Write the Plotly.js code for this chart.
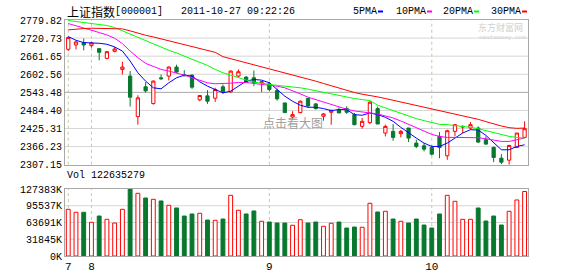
<!DOCTYPE html>
<html><head><meta charset="utf-8">
<script src="https://cdn.plot.ly/plotly-3.0.1.min.js"></script>
<style>html,body{margin:0;padding:0;background:#fff}#chart{width:578px;height:276px}</style>
</head><body><div id="chart"></div>
<script>
const dates = [
'2011-07-27','2011-07-28','2011-07-29',
'2011-08-01','2011-08-02','2011-08-03','2011-08-04','2011-08-05',
'2011-08-08','2011-08-09','2011-08-10','2011-08-11','2011-08-12',
'2011-08-15','2011-08-16','2011-08-17','2011-08-18','2011-08-19',
'2011-08-22','2011-08-23','2011-08-24','2011-08-25','2011-08-26',
'2011-08-29','2011-08-30','2011-08-31',
'2011-09-01','2011-09-02','2011-09-05','2011-09-06','2011-09-07','2011-09-08','2011-09-09',
'2011-09-13','2011-09-14','2011-09-15','2011-09-16',
'2011-09-19','2011-09-20','2011-09-21','2011-09-22','2011-09-23',
'2011-09-26','2011-09-27','2011-09-28','2011-09-29','2011-09-30',
'2011-10-10','2011-10-11','2011-10-12','2011-10-13','2011-10-14',
'2011-10-17','2011-10-18','2011-10-19','2011-10-20','2011-10-21',
'2011-10-24','2011-10-25','2011-10-26'];

const openP = [2684.1,2698.3,2706,2696,2686.3,2654.5,2677.5,2618.4,2596.6,2464.2,
2561.5,2506.8,2591,2596.6,2626,2601,2599.8,2518.9,2532,2524.3,
2561.5,2545.1,2596.6,2593.3,2591.1,2574.7,2571.4,2549.5,2509,2463,
2477.3,2523.3,2505.7,2465.3,2478.4,2487.2,2490.4,2470.7,2432.4,2444.5,
2490.4,2410.6,2416,2408.4,2427,2377.7,2369,2363.5,2399.6,2336.2,
2416,2430,2427,2427,2388.7,2363.5,2328.5,2321.9,2363.5,2396.3];
const highP = [2725.7,2711.4,2719,2709,2686.3,2678.6,2691.7,2643.6,2613,2534,
2576.9,2582.4,2602,2628.3,2633.7,2616,2602,2535,2550.6,2558.3,
2569.2,2615.2,2618.4,2596.6,2615,2580,2578,2556,2509,2481.7,
2516.7,2525.5,2509,2476,2485,2494.8,2498,2476,2459.8,2514.5,
2497,2437.9,2440,2420.4,2427,2388.7,2377.7,2370,2413.8,2421.5,
2440,2436,2446.7,2432.4,2399.6,2366.8,2341.6,2372.2,2410.6,2448.8];
const lowP = [2679,2684,2680.8,2689.5,2648,2651.3,2674.2,2602,2497,2437.9,
2543,2503.5,2584.5,2582.3,2606.4,2596,2555,2514.5,2505.7,2512.3,
2538.6,2543,2593.3,2574.7,2563.7,2545,2547.3,2516.7,2477,2454.3,
2475.1,2492.6,2487.2,2451,2438,2476.2,2473,2435.7,2424.8,2440,
2440,2399.6,2385.4,2396.3,2381,2361.3,2350.4,2337.3,2328.5,2323,
2399.6,2410,2421.5,2377.7,2372.2,2315.4,2308.8,2307.15,2361.3,2394.1];
const closeP = [2722.4,2708.2,2698.3,2704.9,2674.2,2676.4,2685.2,2626,2527.6,2525.5,
2548.4,2580.2,2588,2626.1,2609.7,2598,2560.4,2533.1,2514.5,2552.8,
2545.1,2613,2610.8,2576.9,2574.7,2578,2552.8,2522.2,2477.3,2470.7,
2514.5,2499.2,2490.4,2473,2485,2476.2,2478.4,2437.9,2448.8,2511.2,
2440,2432.4,2396.3,2416,2394.1,2366.8,2358,2341.6,2363.5,2418.2,
2437.9,2432,2437.9,2381,2374.4,2330.7,2315.4,2370,2410.6,2424.8];

const ma5 = [2725.7,2713.6,2706,2706,2703.8,2700.5,2691.8,2678.6,2645.8,2607.5,
2580.1,2558.3,2555,2574.7,2591,2599.8,2596.6,2578,2563.7,2552.8,
2541.9,2547.3,2563.7,2580.1,2585.6,2583.4,2574.7,2552.8,2530.9,2514.5,
2501.4,2494.8,2494.8,2490.4,2483.9,2487.2,2487.2,2470.7,2468.6,2476.2,
2470.7,2462,2448.8,2429.2,2410.6,2394.1,2377.7,2366.8,2366.8,2377.7,
2394.1,2410.6,2421.5,2420.4,2402.9,2377.7,2355.9,2355.9,2366.8,2372.2];
const ma10 = [2768.3,2761.8,2753,2746.4,2738.8,2731.1,2720.2,2702.7,2678.6,2656.7,
2638.1,2627.2,2618.4,2613,2607.5,2599.8,2591.1,2582.3,2574.7,2571.4,
2571.4,2573.6,2575.8,2575.8,2572.5,2570.3,2567,2563.7,2558.3,2549.5,
2538.6,2527.6,2520,2511.2,2502.5,2494.8,2488.3,2482.8,2479.5,2478.4,
2472.9,2466.3,2459.8,2449.9,2439,2427,2416,2406.2,2399.6,2396.3,
2396.3,2396.3,2397.4,2395.2,2391.9,2387.6,2383.2,2383.2,2387.6,2394.1];
const ma20 = [2778.2,2775,2772.7,2770.5,2766.1,2761.8,2755.2,2744.3,2733.3,2722.4,
2711.4,2700.5,2689.5,2680.8,2672,2662.2,2652.4,2642.5,2631.6,2618.4,
2607.5,2599.8,2591.1,2583.4,2576.9,2572.5,2569.2,2565.9,2563.7,2561.5,
2558.3,2553.9,2548.4,2542.9,2537.5,2532,2527.6,2523.3,2520,2516.7,
2501.4,2492.6,2482.8,2474,2465.3,2457.6,2451.1,2444.5,2439,2437.9,
2435.7,2432.4,2429.2,2424.8,2418.2,2411.7,2405.1,2399.6,2396.3,2394.1];
const ma30 = [2747.5,2750.8,2751.9,2753,2753,2753,2753,2750.8,2744.3,2736.6,
2730,2724.5,2718,2711.4,2706,2698.3,2691.8,2686.3,2680.8,2674.2,
2660,2653.5,2646.9,2640.3,2633.7,2627.2,2620.6,2614.1,2607.5,2600.9,
2594.4,2586.7,2580.1,2572.5,2564.8,2557.2,2550.6,2542.9,2537.5,2534.2,
2528.7,2523.3,2517.8,2512.3,2506.8,2501.4,2494.8,2488.3,2482.8,2478.4,
2474,2468.5,2462,2455.4,2447.8,2440.1,2433.5,2428.1,2425.9,2427];

const volume = [88784000,83100000,83100000,64100000,76000000,69800000,62700000,88800000,127383000,119200000,
110300000,107800000,104600000,96400000,91300000,76000000,79900000,81200000,68400000,67900000,
70300000,115400000,86900000,79900000,85600000,66000000,64600000,62700000,62700000,58400000,
69000000,62700000,64600000,56500000,62200000,64600000,53200000,55100000,54600000,100200000,
83700000,85000000,70300000,66000000,62700000,70300000,58900000,53200000,79900000,115400000,
104000000,69800000,69800000,91300000,66500000,76000000,58900000,85000000,106500000,122635279];

const priceTicks = [2307.15,2366.23,2425.31,2484.40,2543.48,2602.56,2661.65,2720.73,2779.82];
const volTicks = [0,31845000,63691000,95537000,127383000];
const volTickLabels = ['0K','31845K','63691K','95537K','127383K'];
const monthStarts = ['2011-07-27','2011-08-01','2011-09-01','2011-10-10'];
const monthLabels = ['7','8','9','10'];
const maNames = ['5PMA','10PMA','20PMA','30PMA'];
const maColors = ['#0000FF','#FF00FF','#00FF00','#FF0000'];
const stockName = '上证指数';
const stockCode = '[000001]';
const stamp = '2011-10-27 09:22:26';

const UP = '#FF0000', DOWN = '#08782F';
const GRID = '#D6D6D6', FRAME = '#A8A8A8';
const MONO = 'Liberation Mono, DejaVu Sans Mono, monospace';
const CJK = 'Noto Sans CJK SC, sans-serif';

const W=578, H=276, ML=65, MR=50, MT=20, MB=20;
const pw = W-ML-MR, ph = H-MT-MB;
const px = v => (v-ML)/pw;
const py = v => (H-MB-v)/ph;

const traces = [];
traces.push({
  type:'candlestick', x:dates, open:openP, high:highP, low:lowP, close:closeP,
  xaxis:'x', yaxis:'y', whiskerwidth:0,
  increasing:{line:{color:UP,width:1}, fillcolor:'#FFFFFF'},
  decreasing:{line:{color:DOWN,width:1}, fillcolor:DOWN},
  hoverinfo:'skip', showlegend:false
});
[ma5,ma10,ma20,ma30].forEach((arr,k)=>{
  traces.push({type:'scatter', mode:'lines', x:dates, y:arr, xaxis:'x', yaxis:'y',
    line:{color:maColors[k], width:1}, hoverinfo:'skip', showlegend:false});
});
const volFill = dates.map((d,i)=> closeP[i]>=openP[i] ? '#FFFFFF' : DOWN);
const volLine = dates.map((d,i)=> closeP[i]>=openP[i] ? UP : DOWN);
traces.push({type:'bar', x:dates, y:volume, xaxis:'x2', yaxis:'y2', width:0.5,
  marker:{color:volFill, line:{color:volLine, width:1}}, hoverinfo:'skip', showlegend:false});

const shapes = [];
// horizontal grid lines (middle price line darker)
priceTicks.slice(1, -1).forEach((v, k)=>{
  shapes.push({type:'line', xref:'x domain', yref:'y', x0:0, x1:1, y0:v, y1:v, layer:'below',
    line:{color: (k+1)===4 ? FRAME : GRID, width:1}});
});
volTicks.slice(1, -1).forEach(v=>{
  shapes.push({type:'line', xref:'x2 domain', yref:'y2', x0:0, x1:1, y0:v, y1:v, layer:'below',
    line:{color:GRID, width:1}});
});
// month separators
monthStarts.forEach(d=>{
  shapes.push({type:'line', xref:'x', yref:'y domain', x0:d, x1:d, y0:0, y1:1, layer:'below',
    line:{color:'#C8C8A0', width:1, dash:'3px,3px'}});
  shapes.push({type:'line', xref:'x2', yref:'y2 domain', x0:d, x1:d, y0:0, y1:1, layer:'below',
    line:{color:'#C8C8A0', width:1, dash:'3px,3px'}});
});

const annotations = [];
const txt = (s, x, y, font, anchor) => annotations.push({text:s, xref:'paper', yref:'paper',
  x:px(x), y:py(y), xanchor:anchor||'left', yanchor:'middle', showarrow:false, font:font});
txt(stockName, 65, 11, {family:CJK, size:12, color:'#000'});
txt(stockCode, 113, 11, {family:MONO, size:10, color:'#000'});
txt(stamp, 179, 11, {family:MONO, size:10, color:'#000'});
const legX = [351, 394, 441, 489];
maNames.forEach((n,k)=>{
  txt(n, legX[k], 11, {family:MONO, size:10, color:'#000'});
  const sx = legX[k] + n.length*6 + 3;
  shapes.push({type:'rect', xref:'paper', yref:'paper', x0:px(sx), x1:px(sx+5), y0:py(12.5), y1:py(10.5),
    line:{width:0}, fillcolor:maColors[k], layer:'above'});
});
txt('Vol ' + volume[volume.length-1], 65, 175, {family:MONO, size:10, color:'#000'});
txt('点击看大图', 293, 123, {family:CJK, size:12, color:'#A0A0A0'}, 'center');
txt('东方财富网', 476, 27.5, {family:CJK, size:9, color:'#D0D0D0'});
txt('eastmoney.com', 477, 37, {family:MONO, size:6, color:'#D0D0D0'});

const axisCommon = {showline:true, mirror:true, linecolor:FRAME, linewidth:1, zeroline:false, fixedrange:true, showgrid:false};
const layout = {
  width:W, height:H, margin:{l:ML, r:MR, t:MT, b:MB, pad:0},
  paper_bgcolor:'#FFFFFF', plot_bgcolor:'#FFFFFF', showlegend:false, boxgap:0.4, bargap:0.4,
  xaxis:Object.assign({}, axisCommon, {type:'category', anchor:'y', range:[-0.42,59.44],
    showticklabels:false, ticks:'', rangeslider:{visible:false}}),
  xaxis2:Object.assign({}, axisCommon, {type:'category', anchor:'y2', range:[-0.42,59.44],
    tickmode:'array', tickvals:monthStarts, ticktext:monthLabels, ticks:'',
    tickfont:{family:MONO, size:11, color:'#000'}}),
  yaxis:Object.assign({}, axisCommon, {domain:[(256-164.7)/ph, 1], range:[priceTicks[0], priceTicks[priceTicks.length-1]],
    tickmode:'array', tickvals:priceTicks, ticktext:priceTicks.map(v=>v.toFixed(2)),
    ticks:'', tickfont:{family:MONO, size:10, color:'#000'}}),
  yaxis2:Object.assign({}, axisCommon, {domain:[0, (256-189)/ph], range:[0, volTicks[volTicks.length-1]],
    tickmode:'array', tickvals:volTicks, ticktext:volTickLabels,
    ticks:'', tickfont:{family:MONO, size:10, color:'#000'}}),
  shapes:shapes, annotations:annotations
};
Plotly.newPlot('chart', traces, layout, {staticPlot:true, displayModeBar:false});
</script></body></html>
